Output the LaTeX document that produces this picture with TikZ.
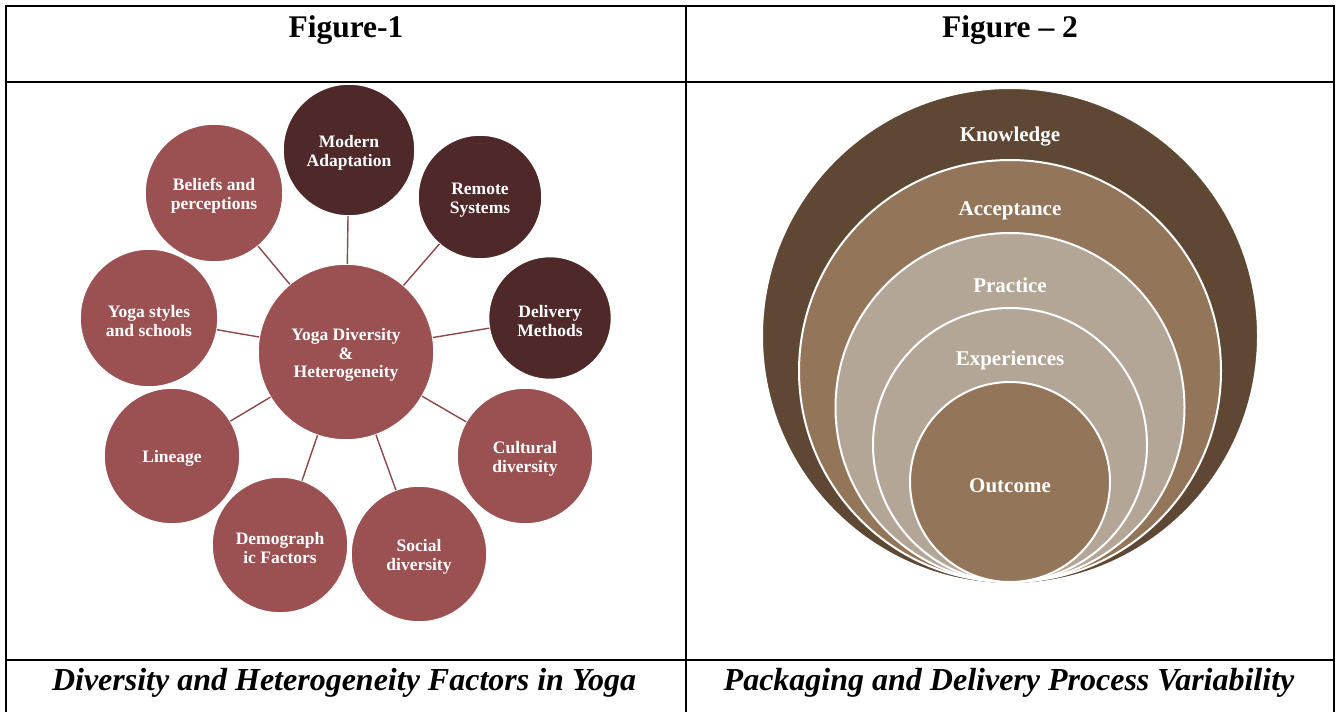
\documentclass[tikz,border=0pt]{standalone}
\usepackage{fontspec}
\setmainfont{Liberation Serif}
\usepackage{xcolor}
\usetikzlibrary{shapes,positioning,calc}

\definecolor{rosebrown}{HTML}{9B5152}
\definecolor{darkmaroon}{HTML}{4F2829}
\definecolor{spoke}{HTML}{8C4848}
\definecolor{bark}{HTML}{5F4833}
\definecolor{mocha}{HTML}{937559}
\definecolor{sand}{HTML}{B4A697}

\begin{document}
\begin{tikzpicture}[x=1pt, y=-1pt]
  % Styles
  \tikzstyle{factor}=[circle, draw=white, line width=1.6pt, fill=rosebrown, text=white, minimum size=136pt, inner sep=0pt, outer sep=0pt, align=center, font=\bfseries\fontsize{17.5}{19}\selectfont]
  \tikzstyle{factordark}=[factor, fill=darkmaroon]
  \tikzstyle{hub}=[factor, minimum size=176pt, font=\bfseries\fontsize{17.5}{18.5}\selectfont]
  \tikzstyle{factortext}=[text=white, align=center, font=\bfseries\fontsize{17.5}{19}\selectfont]
  \tikzstyle{spokeline}=[spoke, line width=1.4pt]
  \tikzstyle{ring}=[circle, draw=white, line width=2pt, minimum size=#1, inner sep=0pt]
  \tikzstyle{ringtext}=[text=white, font=\bfseries\fontsize{21}{23}\selectfont]
  \tikzstyle{rule}=[black, line width=2pt]

  \useasboundingbox (0,0) rectangle (1336,712);

  % Table frame
  \draw[rule] (6,712) -- (6,6) -- (1334,6) -- (1334,712);
  \draw[rule] (686,6) -- (686,712);
  \draw[rule] (6,82) -- (1334,82);
  \draw[rule] (6,660) -- (1334,660);

  % Headings
  \node[font=\bfseries\fontsize{31.5}{33}\selectfont] (head1) at (346,30) {Figure-1};
  \node[font=\bfseries\fontsize{31.5}{33}\selectfont] (head2) at (1010,30) {Figure -- 2};
  \node[font=\bfseries\itshape\fontsize{32}{34}\selectfont] (cap1) at (344,683) {Diversity and Heterogeneity Factors in Yoga};
  \node[font=\bfseries\itshape\fontsize{32}{34}\selectfont] (cap2) at (1009,683) {Packaging and Delivery Process Variability};

  % Figure 1: factors around the hub (text set a little low, as in the source)
  \node[hub] (hub) at (346,352) {};
  \node[factordark, minimum size=132pt] (modern) at (349,150) {};
  \node[factordark, minimum size=124pt] (remote) at (480,197) {};
  \node[factordark, minimum size=123pt] (delivery) at (550,318) {};
  \node[factor] (cultural) at (525,456) {};
  \node[factor] (social) at (419,554) {};
  \node[factor] (demo) at (280,545) {};
  \node[factor] (lineage) at (172,456) {};
  \node[factor, minimum size=138pt] (styles) at (149,318) {};
  \node[factor, minimum size=138pt] (beliefs) at (214,193) {};

  \node[factortext, font=\bfseries\fontsize{17.5}{18.5}\selectfont] (hubtxt) at (346,355) {Yoga Diversity\\\&\\Heterogeneity};
  \node[factortext] (moderntxt) at (349,153) {Modern\\Adaptation};
  \node[factortext] (remotetxt) at (480,200) {Remote\\Systems};
  \node[factortext] (deliverytxt) at (550,321) {Delivery\\Methods};
  \node[factortext] (culturaltxt) at (525,459) {Cultural\\diversity};
  \node[factortext] (socialtxt) at (419,557) {Social\\diversity};
  \node[factortext] (demotxt) at (280,548) {Demograph\\ic Factors};
  \node[factortext] (lineagetxt) at (172,458) {Lineage};
  \node[factortext] (stylestxt) at (149,321) {Yoga styles\\and schools};
  \node[factortext] (beliefstxt) at (214,196) {Beliefs and\\perceptions};

  % Spokes
  \foreach \n in {modern,remote,delivery,cultural,social,demo,lineage,styles,beliefs}
    \draw[spokeline] (hub) -- (\n);

  % Figure 2: nested circles touching at the bottom
  \node[ring=496pt, fill=bark] (know) at (1010,336) {};
  \node[ring=422pt, fill=mocha] (accept) at (1010,371) {};
  \node[ring=349pt, fill=sand] (practice) at (1010,407.5) {};
  \node[ring=274pt, fill=sand] (exper) at (1010,445) {};
  \node[ring=200pt, fill=mocha] (outcome) at (1010,482) {};

  \node[ringtext] (knowtxt) at (1010,137) {Knowledge};
  \node[ringtext] (accepttxt) at (1010,211) {Acceptance};
  \node[ringtext] (practicetxt) at (1010,285) {Practice};
  \node[ringtext] (expertxt) at (1010,360) {Experiences};
  \node[ringtext] (outcometxt) at (1010,486) {Outcome};
\end{tikzpicture}
\end{document}
